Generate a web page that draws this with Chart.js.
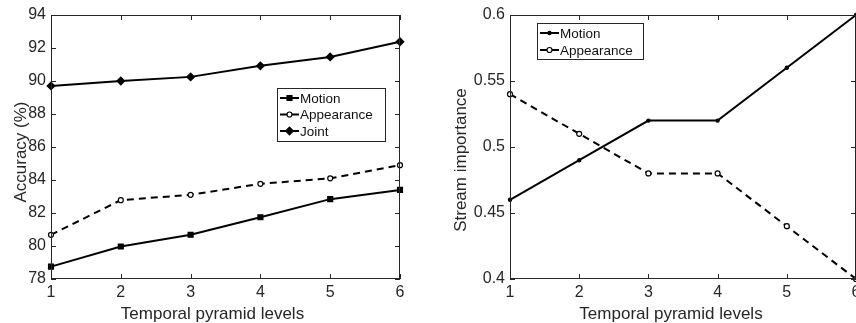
<!DOCTYPE html>
<html>
<head>
<meta charset="utf-8">
<script src="https://cdn.jsdelivr.net/npm/chart.js@4/dist/chart.umd.min.js"></script>
<style>
html, body { margin: 0; padding: 0; background: #fff; overflow: hidden; }
#wrap { position: relative; width: 856px; height: 323px; overflow: hidden; }
#accChart { position: absolute; left: 0; top: 0; }
#impChart { position: absolute; left: 430px; top: 0; }
</style>
</head>
<body>
<div id="wrap">
  <canvas id="accChart" width="430" height="323"></canvas>
  <canvas id="impChart" width="440" height="323"></canvas>
</div>
<script>
// values
var levels = [1, 2, 3, 4, 5, 6];
var accMotion = [78.75, 79.97, 80.68, 81.74, 82.84, 83.40];
var accAppearance = [80.68, 82.78, 83.10, 83.77, 84.10, 84.90];
var accJoint = [89.70, 90.00, 90.25, 90.92, 91.46, 92.38];
var impMotion = [0.46, 0.49, 0.52, 0.52, 0.56, 0.60];
var impAppearance = [0.54, 0.51, 0.48, 0.48, 0.44, 0.40];

var axisColor = '#262626';
var fontFamily = '"Liberation Sans", Arial, Helvetica, sans-serif';

function pts(ys) {
  return ys.map(function (y, i) { return { x: levels[i], y: y }; });
}

// MATLAB style: frame all round, ticks pointing in
var boxTicks = {
  id: 'boxTicks',
  afterDraw: function (chart) {
    var c = chart.ctx, a = chart.chartArea;
    var xs = chart.scales.x, ys = chart.scales.y;
    c.save();
    c.strokeStyle = axisColor;
    c.lineWidth = 1;
    c.strokeRect(a.left + 0.5, a.top + 0.5, a.right - a.left - 1, a.bottom - a.top - 1);
    c.beginPath();
    xs.ticks.forEach(function (t) {
      var px = Math.round(xs.getPixelForValue(t.value)) + 0.5;
      c.moveTo(px, a.bottom); c.lineTo(px, a.bottom - 5);
      c.moveTo(px, a.top); c.lineTo(px, a.top + 5);
    });
    ys.ticks.forEach(function (t) {
      var py = Math.round(ys.getPixelForValue(t.value)) + 0.5;
      c.moveTo(a.left, py); c.lineTo(a.left + 5, py);
      c.moveTo(a.right, py); c.lineTo(a.right - 5, py);
    });
    c.stroke();
    c.restore();
  }
};

// axis titles, placed where the original figure has them
var axisTitles = {
  id: 'axisTitles',
  afterDraw: function (chart, args, opts) {
    var c = chart.ctx;
    c.save();
    c.fillStyle = axisColor;
    c.font = '17px ' + fontFamily;
    c.textAlign = 'center';
    c.textBaseline = 'alphabetic';
    c.fillText(opts.x, opts.xAt[0], opts.xAt[1]);
    c.translate(opts.yAt[0], opts.yAt[1]);
    c.rotate(-Math.PI / 2);
    c.fillText(opts.y, 0, 0);
    c.restore();
  }
};

// legend box inside the axes
var boxLegend = {
  id: 'boxLegend',
  afterDraw: function (chart, args, opts) {
    var c = chart.ctx, a = chart.chartArea;
    var x = a.left + opts.x, y = a.top + opts.y;
    c.save();
    c.fillStyle = '#fff';
    c.fillRect(x, y, opts.w, opts.h);
    c.strokeStyle = axisColor;
    c.lineWidth = 1;
    c.strokeRect(x + 0.5, y + 0.5, opts.w, opts.h);
    c.font = '13.5px ' + fontFamily;
    c.textBaseline = 'middle';
    chart.data.datasets.forEach(function (ds, i) {
      var ly = y + opts.first + i * opts.step;
      c.strokeStyle = '#000';
      c.lineWidth = 2;
      c.setLineDash(ds.borderDash || []);
      c.beginPath();
      c.moveTo(x + 3, ly); c.lineTo(x + 22, ly);
      c.stroke();
      c.setLineDash([]);
      c.fillStyle = ds.pointBackgroundColor;
      c.strokeStyle = '#000';
      c.lineWidth = ds.pointBorderWidth;
      Chart.helpers.drawPoint(c, { pointStyle: ds.pointStyle, radius: ds.pointRadius, borderWidth: ds.pointBorderWidth, rotation: 0 }, x + 12.5, ly);
      c.fillStyle = '#111';
      c.fillText(ds.label, x + 23, ly + 1);
    });
    c.restore();
  }
};

function baseScales(yMin, yMax, yStep, yWidth, fmt) {
  return {
    x: {
      type: 'linear', min: 1, max: 6,
      grid: { display: false, drawTicks: false },
      border: { display: false },
      ticks: { stepSize: 1, padding: 4, color: axisColor, font: { family: fontFamily, size: 16 } },
      afterFit: function (s) { s.height = 44; }
    },
    y: {
      min: yMin, max: yMax,
      grid: { display: false, drawTicks: false },
      border: { display: false },
      ticks: { stepSize: yStep, padding: 5, color: axisColor, font: { family: fontFamily, size: 16 }, callback: fmt },
      afterFit: function (s) { s.width = yWidth; }
    }
  };
}

function lineSet(label, ys, style, radius, fill, dash) {
  return {
    label: label,
    data: pts(ys),
    borderColor: '#000',
    borderWidth: 2,
    borderDash: dash,
    pointStyle: style,
    pointRadius: radius,
    pointBackgroundColor: fill,
    pointBorderColor: '#000',
    pointBorderWidth: 1.2,
    tension: 0,
    clip: false
  };
}

new Chart(document.getElementById('accChart'), {
  type: 'line',
  data: {
    datasets: [
      lineSet('Motion', accMotion, 'rect', 3.5, '#000', []),
      lineSet('Appearance', accAppearance, 'circle', 2.5, '#fff', [7, 5]),
      lineSet('Joint', accJoint, 'rectRot', 3.8, '#000', [])
    ]
  },
  options: {
    responsive: false,
    animation: false,
    events: [],
    layout: { padding: { top: 15, right: 30, left: 0, bottom: 0 } },
    scales: baseScales(78, 94, 2, 51, function (v) { return v; }),
    plugins: {
      legend: { display: false },
      tooltip: { enabled: false },
      axisTitles: { x: 'Temporal pyramid levels', xAt: [212.5, 319], y: 'Accuracy (%)', yAt: [25.5, 152] },
      boxLegend: { x: 226, y: 73, w: 108, h: 53, first: 10, step: 16.5 }
    }
  },
  plugins: [boxTicks, axisTitles, boxLegend]
});

new Chart(document.getElementById('impChart'), {
  type: 'line',
  data: {
    datasets: [
      lineSet('Motion', impMotion, 'circle', 1.6, '#000', []),
      lineSet('Appearance', impAppearance, 'circle', 2.5, '#fff', [7, 5])
    ]
  },
  options: {
    responsive: false,
    animation: false,
    events: [],
    layout: { padding: { top: 15, right: 14, left: 0, bottom: 0 } },
    scales: baseScales(0.4, 0.6, 0.05, 80, function (v) { return String(+v.toFixed(2)); }),
    plugins: {
      legend: { display: false },
      tooltip: { enabled: false },
      axisTitles: { x: 'Temporal pyramid levels', xAt: [241, 319], y: 'Stream importance', yAt: [35.5, 160] },
      boxLegend: { x: 27, y: 8, w: 106, h: 36, first: 10, step: 17 }
    }
  },
  plugins: [boxTicks, axisTitles, boxLegend]
});
</script>
</body>
</html>
